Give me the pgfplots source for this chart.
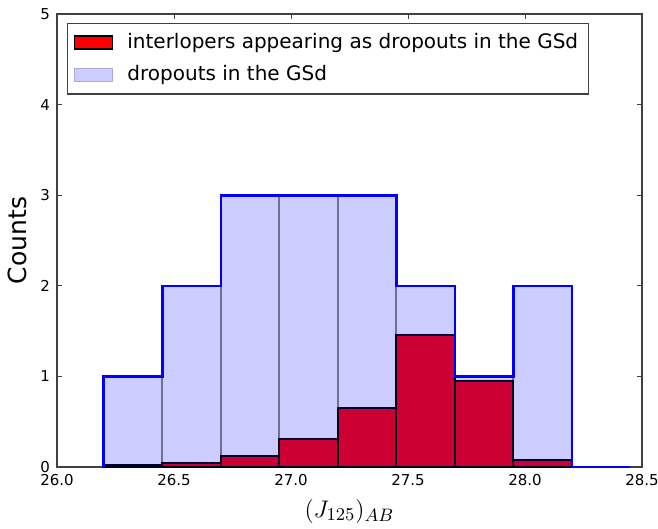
\documentclass[border=0pt]{standalone}
\usepackage[no-math]{fontspec}
\setmainfont{DejaVu Sans}
\usepackage{pgfplots}
\pgfplotsset{compat=1.18}
\definecolor{interl}{HTML}{FF0000}
\definecolor{dropedge}{HTML}{AAAADD}
\definecolor{droplight}{HTML}{CCCCFF}

\begin{document}
\begin{tikzpicture}
\begin{axis}[
    scale only axis,
    width=292.5pt, height=226.5pt,
    xmin=26.0, xmax=28.5,
    ymin=0, ymax=5,
    xtick={26.0,26.5,27.0,27.5,28.0,28.5},
    ytick={0,1,2,3,4,5},
    /pgf/number format/assume math mode=true,
    x tick label style={/pgf/number format/.cd, fixed, fixed zerofill, precision=1, /tikz/.cd},
    tick label style={font=\fontsize{7.5}{9}\selectfont},
    xlabel={$(J_{125})_{AB}$},
    xlabel style={font=\fontsize{13}{15}\selectfont},
    ylabel={Counts},
    ylabel style={font=\fontsize{12.5}{15}\selectfont},
    axis line style={black!75, line width=0.6pt},
    tick style={black!75, line width=0.5pt},
    major tick length=2.5pt,
    clip=false,
    legend cell align=left,
    legend style={
        at={(rel axis cs:0,1)}, anchor=north west,
        xshift=5pt, yshift=-4.5pt,
        draw=black!75, line width=0.6pt,
        font=\fontsize{10}{12}\selectfont,
        inner xsep=3pt, inner ysep=3pt, row sep=3pt,
        /tikz/every odd column/.append style={column sep=5pt},
    },
]
% interlopers
\addplot[ybar interval, fill=interl, draw=black, line width=0.9pt,
    legend image code/.code={\draw[fill=interl, draw=black, line width=0.9pt] (0pt,-3.25pt) rectangle (19pt,3.25pt);}]
    coordinates {(26.2,0.02)(26.45,0.04)(26.7,0.125)(26.95,0.305)(27.2,0.648)(27.45,1.454)(27.7,0.946)(27.95,0.08)(28.2,0.08)};
\addlegendentry{interlopers appearing as dropouts in the GSd}
% dropouts
\addplot[ybar interval, fill=blue, fill opacity=0.2, draw=black, draw opacity=0.45, line width=1pt,
    legend image code/.code={\draw[fill=droplight, fill opacity=1, draw opacity=1, draw=dropedge, line width=0.8pt] (0pt,-3.25pt) rectangle (19pt,3.25pt);}]
    coordinates {(26.2,1)(26.45,2)(26.7,3)(26.95,3)(27.2,3)(27.45,2)(27.7,1)(27.95,2)(28.2,2)};
\addlegendentry{dropouts in the GSd}
% step outline
\addplot[blue, line width=1.3pt, line join=miter, forget plot]
    coordinates {(26.2,0)(26.2,1)(26.45,1)(26.45,2)(26.7,2)(26.7,3)(27.45,3)(27.45,2)(27.7,2)(27.7,1)(27.95,1)(27.95,2)(28.2,2)(28.2,0)(28.45,0)};
\end{axis}
% frame the page like the reference
\pgfresetboundingbox
\path[use as bounding box] ([xshift=-28.5pt, yshift=-31pt]current axis.south west)
    rectangle ([xshift=8pt, yshift=7pt]current axis.north east);
\end{tikzpicture}
\end{document}
